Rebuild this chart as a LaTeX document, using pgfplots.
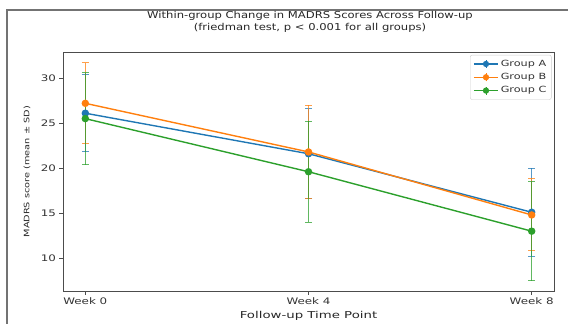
\documentclass[border=0pt]{standalone}
\usepackage{pgfplots}
\pgfplotsset{compat=1.18}
\usepackage{fontspec}
\setmainfont{DejaVu Sans}
\newfontfamily\titlefont[FakeStretch=1.22]{DejaVu Sans}
\newfontfamily\labfont[FakeStretch=1.4]{DejaVu Sans}
\newfontfamily\tickfont[FakeStretch=1.32]{DejaVu Sans}
\newfontfamily\ylabfont[FakeStretch=1.3]{DejaVu Sans}
\definecolor{tabblue}{HTML}{1F77B4}
\definecolor{taborange}{HTML}{FF7F0E}
\definecolor{tabgreen}{HTML}{2CA02C}
\pgfplotstableread{
x y ey
0 26.1 4.3
4 21.6 5.0
8 15.1 4.9
}\groupA
\pgfplotstableread{
x y ey
0 27.2 4.5
4 21.8 5.2
8 14.8 4.0
}\groupB
\pgfplotstableread{
x y ey
0 25.5 5.1
4 19.6 5.6
8 13.0 5.5
}\groupC
\pgfplotsset{errleg/.style={legend image code/.code={\draw[line width=1.4pt] (0cm,0cm) -- (0.85cm,0cm); \draw[line width=0.9pt] (0.425cm,-0.14cm) -- (0.425cm,0.14cm); \fill (0.425cm,0cm) circle (2.4pt);}}}
\begin{document}
\begin{tikzpicture}
\useasboundingbox (0pt,0pt) rectangle (568pt,324pt);
\draw[black!55, line width=1.2pt] (7pt,0pt) -- (7pt,314pt) -- (568pt,314pt);
\node[font=\titlefont\fontsize{9.5}{12.5}\selectfont, align=center, text=black!85] at (310pt,302pt) {Within-group Change in MADRS Scores Across Follow-up\\(friedman test, p < 0.001 for all groups)};
\begin{axis}[
  at={(63pt,32.5pt)}, anchor=south west, scale only axis,
  width=491pt, height=239.5pt,
  xmin=-0.4, xmax=8.4, ymin=6.3, ymax=32.9,
  xtick={0,4,8}, xticklabels={Week 0, Week 4, Week 8},
  ytick={10,15,20,25,30},
  tick align=outside, tick pos=left,
  major tick length=3.5pt,
  axis line style={black!70, line width=0.8pt},
  every tick/.style={black!70, line width=0.7pt},
  /pgf/number format/assume math mode=true,
  ticklabel style={font=\tickfont\fontsize{9}{10}\selectfont, text=black!80},
  xticklabel style={yshift=1pt},
  xlabel={Follow-up Time Point},
  every axis x label/.style={at={(axis description cs:0.5,-0.102)}, anchor=center},
  xlabel style={font=\labfont\fontsize{9.5}{10}\selectfont, text=black!85},
  ylabel={MADRS score (mean ± SD)},
  every axis y label/.style={at={(axis description cs:-0.0733,0.5)}, rotate=90, anchor=center},
  ylabel style={font=\ylabfont\fontsize{7.5}{8}\selectfont, text=black!85},
  legend style={at={(0.995,0.988)}, anchor=north east, draw=black!20, rounded corners=2pt,
    font=\tickfont\fontsize{8.5}{10}\selectfont, text=black!80, row sep=1.5pt, inner sep=3pt},
  legend cell align=left,
  every axis plot/.append style={line width=1.4pt},
  error bars/error bar style={line width=1pt, opacity=0.75},
  error bars/error mark options={rotate=90, mark size=3.5pt, line width=1pt},
]
\addplot[tabblue, mark=*, mark size=3pt, errleg,
  error bars/.cd, y dir=both, y explicit]
  table[x=x, y=y, y error=ey] {\groupA};
\addlegendentry{Group A}
\addplot[taborange, mark=*, mark size=3pt, errleg,
  error bars/.cd, y dir=both, y explicit]
  table[x=x, y=y, y error=ey] {\groupB};
\addlegendentry{Group B}
\addplot[tabgreen, mark=*, mark size=3pt, errleg,
  error bars/.cd, y dir=both, y explicit]
  table[x=x, y=y, y error=ey] {\groupC};
\addlegendentry{Group C}
\end{axis}
\end{tikzpicture}
\end{document}
